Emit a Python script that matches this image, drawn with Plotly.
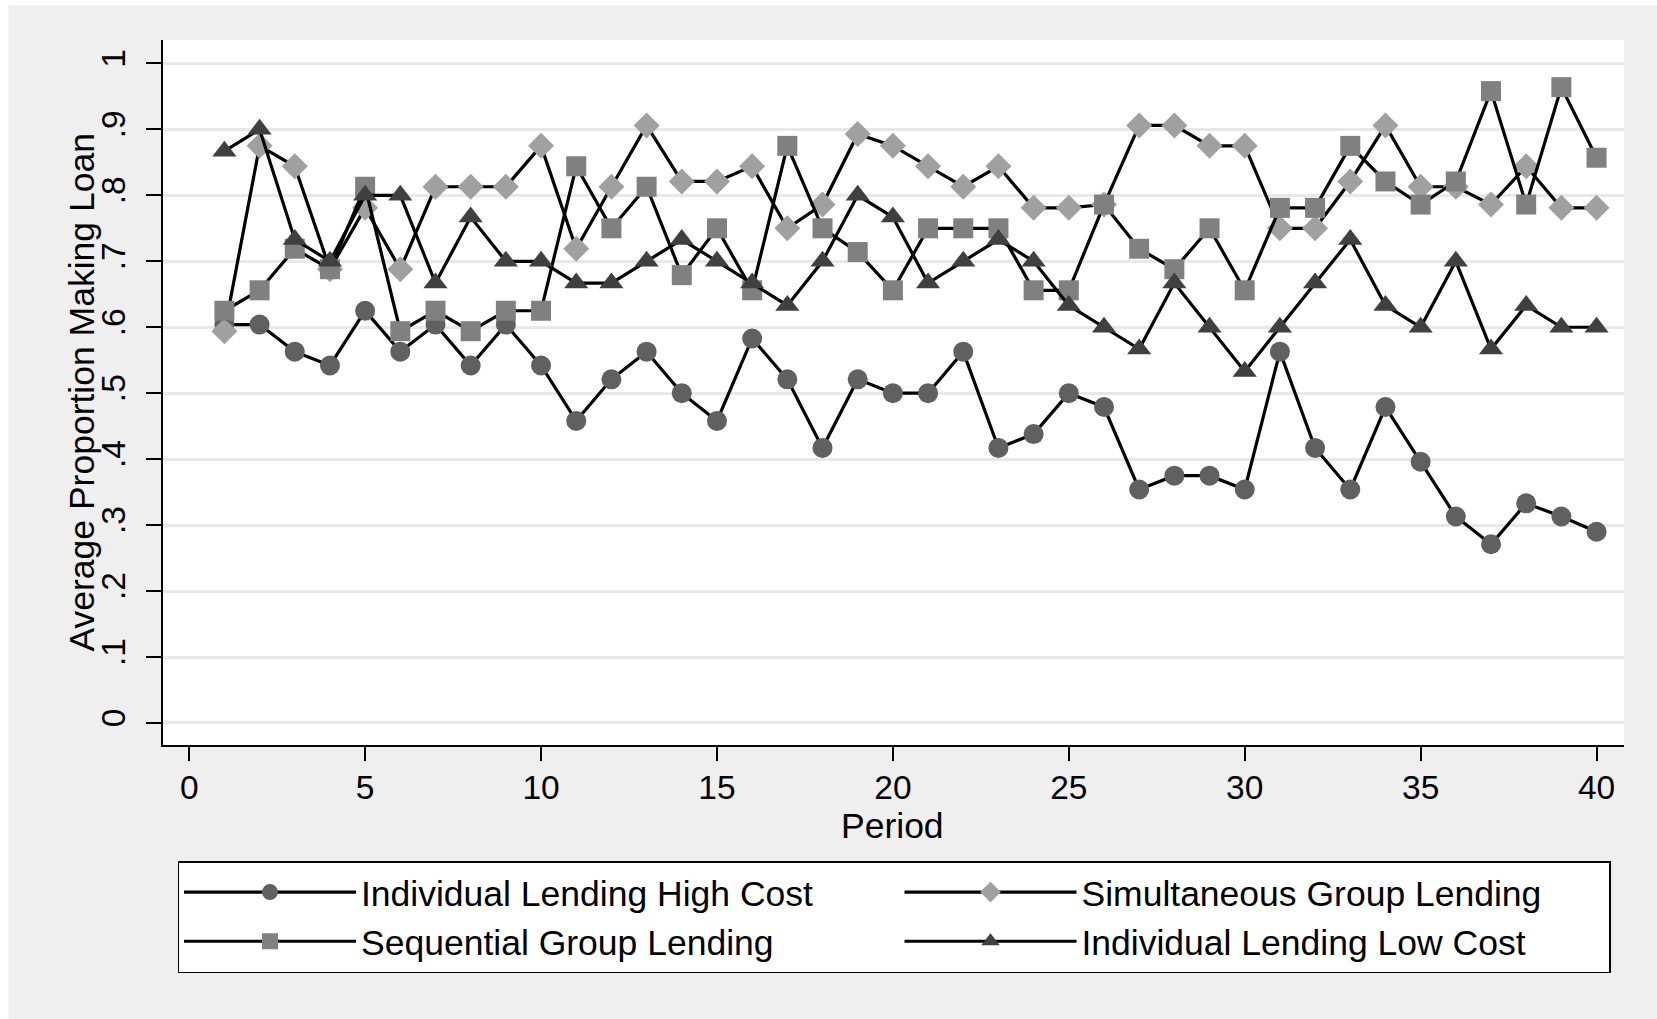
import plotly.graph_objects as go

# ---------------- data ----------------
period = list(range(1, 41))

high_cost = [0.604, 0.604, 0.563, 0.542, 0.625, 0.563, 0.604, 0.542, 0.604, 0.542,
             0.458, 0.521, 0.563, 0.500, 0.458, 0.583, 0.521, 0.417, 0.521, 0.500,
             0.500, 0.563, 0.417, 0.438, 0.500, 0.479, 0.354, 0.375, 0.375, 0.354,
             0.563, 0.417, 0.354, 0.479, 0.396, 0.313, 0.271, 0.333, 0.313, 0.290]

simultaneous = [0.594, 0.875, 0.844, 0.688, 0.781, 0.688, 0.813, 0.813, 0.813, 0.875,
                0.719, 0.813, 0.906, 0.821, 0.821, 0.844, 0.750, 0.786, 0.893, 0.875,
                0.844, 0.813, 0.844, 0.781, 0.781, 0.786, 0.906, 0.906, 0.875, 0.875,
                0.750, 0.750, 0.821, 0.906, 0.813, 0.813, 0.786, 0.844, 0.781, 0.781]

sequential = [0.625, 0.656, 0.719, 0.688, 0.813, 0.594, 0.625, 0.594, 0.625, 0.625,
              0.844, 0.750, 0.813, 0.679, 0.750, 0.656, 0.875, 0.750, 0.714, 0.656,
              0.750, 0.750, 0.750, 0.656, 0.656, 0.786, 0.719, 0.688, 0.750, 0.656,
              0.781, 0.781, 0.875, 0.821, 0.786, 0.821, 0.958, 0.786, 0.964, 0.857]

low_cost = [0.867, 0.900, 0.733, 0.700, 0.800, 0.800, 0.667, 0.767, 0.700, 0.700,
            0.667, 0.667, 0.700, 0.733, 0.700, 0.667, 0.633, 0.700, 0.800, 0.767,
            0.667, 0.700, 0.733, 0.700, 0.633, 0.600, 0.567, 0.667, 0.600, 0.533,
            0.600, 0.667, 0.733, 0.633, 0.600, 0.700, 0.567, 0.633, 0.600, 0.600]

series_names = ["Individual Lending High Cost", "Simultaneous Group Lending",
                "Sequential Group Lending", "Individual Lending Low Cost"]

y_tickvals = [0, 0.1, 0.2, 0.3, 0.4, 0.5, 0.6, 0.7, 0.8, 0.9, 1]
y_ticktext = ["0", ".1", ".2", ".3", ".4", ".5", ".6", ".7", ".8", ".9", "1"]
x_tickvals = [0, 5, 10, 15, 20, 25, 30, 35, 40]

x_title = "Period"
y_title = "Average Proportion Making Loan"

# ---------------- styling ----------------
FONT = "Liberation Sans, Arial, Helvetica, sans-serif"
W, H = 1657, 1019
ML, MR, MT, MB = 163, 33, 40, 274
PW, PH = W - ML - MR, H - MT - MB

styles = [
    dict(symbol="circle", color="#606060", size=20, lw=533.5),
    dict(symbol="diamond", color="#A0A0A0", size=20, lw=522.5),
    dict(symbol="square", color="#808080", size=20, lw=533.5),
    dict(symbol="triangle-up", color="#404040", size=21, lw=522.5),
]
values = [high_cost, simultaneous, sequential, low_cost]

fig = go.Figure()
for name, vals, st in zip(series_names, values, styles):
    fig.add_trace(go.Scatter(
        x=period, y=vals, name=name, mode="lines+markers",
        line=dict(color="black", width=3.2),
        marker=dict(symbol=st["symbol"], color=st["color"], size=st["size"],
                    line=dict(width=0)),
        legendwidth=st["lw"],
    ))

# helpers to convert page pixels to paper coordinates (for the legend / titles)
def px_x(x):
    return (x - ML) / PW

def px_y(y):
    return (H - MB - y) / PH

fig.update_layout(
    width=W, height=H,
    margin=dict(l=ML, r=MR, t=MT, b=MB, pad=0),
    paper_bgcolor="#EFEFEF",
    plot_bgcolor="white",
    font=dict(family=FONT, color="black", size=33.5),
    xaxis=dict(
        range=[-0.745, 40.78],
        tickvals=x_tickvals,
        ticks="outside", ticklen=14, tickwidth=1.5, tickcolor="black",
        ticklabelstandoff=-2,
        showline=True, linecolor="black", linewidth=1.5,
        showgrid=False, zeroline=False,
        tickfont=dict(size=33.5),
    ),
    yaxis=dict(
        range=[-0.0334, 1.0355],
        tickvals=y_tickvals, ticktext=y_ticktext,
        tickangle=-90,
        ticks="outside", ticklen=15, tickwidth=1.5, tickcolor="black",
        ticklabelstandoff=8,
        showline=True, linecolor="black", linewidth=1.5,
        showgrid=True, gridcolor="#E8E8E8", gridwidth=2.5,
        zeroline=False,
        tickfont=dict(size=33.5),
    ),
    annotations=[
        dict(text=y_title, textangle=-90, xref="paper", yref="paper",
             x=px_x(81), y=0.5, xanchor="center", yanchor="middle",
             showarrow=False, borderpad=0,
             font=dict(size=35.5, family=FONT, color="black")),
        dict(text=x_title, xref="paper", yref="paper",
             x=px_x(892.5), y=px_y(826), xanchor="center", yanchor="middle",
             showarrow=False, borderpad=0,
             font=dict(size=35.5, family=FONT, color="black")),
    ],
    showlegend=True,
    legend=dict(
        orientation="h",
        x=px_x(177.5), xanchor="left",
        y=px_y(861), yanchor="top",
        bgcolor="white", bordercolor="black", borderwidth=1.5,
        font=dict(size=35.5, family=FONT),
        itemwidth=172,
        entrywidthmode="pixels",
        traceorder="normal",
    ),
    shapes=[
        # white strips at the top and left page edge, as in the reference
        dict(type="rect", xref="paper", yref="paper",
             x0=px_x(0), x1=px_x(W), y0=px_y(5), y1=px_y(0),
             fillcolor="white", line=dict(width=0), layer="below"),
        dict(type="rect", xref="paper", yref="paper",
             x0=px_x(0), x1=px_x(8.5), y0=px_y(H), y1=px_y(0),
             fillcolor="white", line=dict(width=0), layer="below"),
    ],
)

fig.write_html("out.html", config={"displayModeBar": False},
               post_script="document.body.style.margin='0';document.body.style.overflow='hidden';")
